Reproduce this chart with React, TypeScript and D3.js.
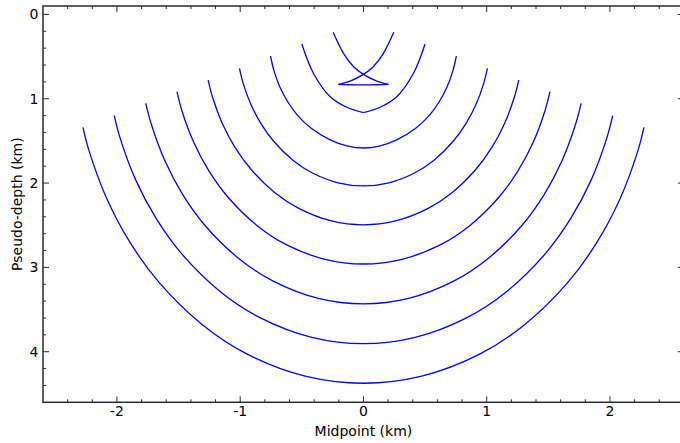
import React from "react";
import * as d3 from "d3";

type Pt = [number, number];

// Wavefront 1 (self-intersecting, with two cusps)
const wave1Down: Pt[] = [[-0.246, 0.212], [-0.162, 0.461], [-0.08, 0.62], [0, 0.711], [0.108, 0.79], [0.203, 0.829]];
const wave1Base: Pt[] = [[-0.203, 0.829], [-0.1, 0.834], [0, 0.836], [0.1, 0.834], [0.203, 0.829]];
const wave1Up: Pt[] = [[-0.203, 0.829], [-0.108, 0.79], [0, 0.711], [0.08, 0.62], [0.162, 0.461], [0.246, 0.212]];
// Wavefront 2 (cusp at the bottom)
const wave2Left: Pt[] = [[-0.5, 0.351], [-0.406, 0.698], [-0.27, 0.976], [-0.135, 1.101], [0, 1.165]];
const wave2Right: Pt[] = [[0, 1.165], [0.135, 1.101], [0.27, 0.976], [0.406, 0.698], [0.5, 0.351]];
// Smooth wavefronts
const wave3: Pt[] = [[-0.754, 0.493], [-0.725, 0.672], [-0.679, 0.857], [-0.617, 1.03], [-0.54, 1.188], [-0.424, 1.35], [-0.27, 1.487], [-0.135, 1.558], [0, 1.584], [0.135, 1.558], [0.27, 1.487], [0.424, 1.35], [0.54, 1.188], [0.617, 1.03], [0.679, 0.857], [0.725, 0.672], [0.754, 0.493]];
const wave4: Pt[] = [[-1.006, 0.639], [-0.974, 0.826], [-0.912, 1.071], [-0.829, 1.3], [-0.725, 1.51], [-0.57, 1.732], [-0.414, 1.881], [-0.207, 1.997], [0, 2.034], [0.207, 1.997], [0.414, 1.881], [0.57, 1.732], [0.725, 1.51], [0.829, 1.3], [0.912, 1.071], [0.974, 0.826], [1.006, 0.639]];
const wave5: Pt[] = [[-1.26, 0.778], [-1.224, 0.983], [-1.146, 1.29], [-1.042, 1.577], [-0.911, 1.839], [-0.716, 2.117], [-0.521, 2.303], [-0.26, 2.449], [0, 2.495], [0.26, 2.449], [0.521, 2.303], [0.716, 2.117], [0.911, 1.839], [1.042, 1.577], [1.146, 1.29], [1.224, 0.983], [1.26, 0.778]];
const wave6: Pt[] = [[-1.513, 0.916], [-1.473, 1.142], [-1.379, 1.511], [-1.254, 1.856], [-1.097, 2.171], [-0.862, 2.505], [-0.627, 2.73], [-0.313, 2.904], [0, 2.96], [0.313, 2.904], [0.627, 2.73], [0.862, 2.505], [1.097, 2.171], [1.254, 1.856], [1.379, 1.511], [1.473, 1.142], [1.513, 0.916]];
const wave7: Pt[] = [[-1.766, 1.054], [-1.721, 1.303], [-1.611, 1.736], [-1.465, 2.14], [-1.282, 2.509], [-1.007, 2.9], [-0.732, 3.163], [-0.366, 3.368], [0, 3.433], [0.366, 3.368], [0.732, 3.163], [1.007, 2.9], [1.282, 2.509], [1.465, 2.14], [1.611, 1.736], [1.721, 1.303], [1.766, 1.054]];
const wave8: Pt[] = [[-2.022, 1.201], [-1.975, 1.464], [-1.849, 1.959], [-1.681, 2.422], [-1.471, 2.845], [-1.156, 3.294], [-0.84, 3.595], [-0.42, 3.829], [0, 3.904], [0.42, 3.829], [0.84, 3.595], [1.156, 3.294], [1.471, 2.845], [1.681, 2.422], [1.849, 1.959], [1.975, 1.464], [2.022, 1.201]];
const wave9: Pt[] = [[-2.276, 1.339], [-2.225, 1.624], [-2.083, 2.183], [-1.894, 2.704], [-1.657, 3.181], [-1.302, 3.686], [-0.947, 4.026], [-0.473, 4.29], [0, 4.374], [0.473, 4.29], [0.947, 4.026], [1.302, 3.686], [1.657, 3.181], [1.894, 2.704], [2.083, 2.183], [2.225, 1.624], [2.276, 1.339]];

const segments: Pt[][] = [wave1Down, wave1Base, wave1Up, wave2Left, wave2Right, wave3, wave4, wave5, wave6, wave7, wave8, wave9];

const xTickLabels = ["-2", "-1", "0", "1", "2"];
const yTickLabels = ["0", "1", "2", "3", "4"];
const xDomain: [number, number] = [-2.6, 2.6];
const yDomain: [number, number] = [-0.1, 4.6];

export default function App() {
  const W = 680, H = 443;
  const left = 43, right = 683.9, top = 6, bottom = 402.3;
  const x = d3.scaleLinear().domain(xDomain).range([left, right]);
  const y = d3.scaleLinear().domain(yDomain).range([top, bottom]);
  const line = d3.line<Pt>().x(d => x(d[0])).y(d => y(d[1])).curve(d3.curveCatmullRom.alpha(0.5));

  const xMinor = d3.range(-13, 14).map(i => +(i * 0.2).toFixed(1)).filter(v => v > xDomain[0] && v < xDomain[1]);
  const yMinor = d3.range(0, 24).map(i => +(i * 0.2).toFixed(1)).filter(v => v > yDomain[0] && v < yDomain[1]);
  const isMajor = (v: number) => Math.abs(v - Math.round(v)) < 1e-6;
  const axisColor = "#2b2b2b";
  const font = "'DejaVu Sans', sans-serif";

  return (
    <svg width={W} height={H} style={{ position: "absolute", left: 0, top: 0, background: "#fff" }}>
      <g>
        {segments.map((s, i) => (
          <path key={i} d={line(s) || ""} fill="none" stroke="#0000ff" strokeWidth={1.3} />
        ))}
      </g>
      <rect x={left} y={top} width={right - left} height={bottom - top} fill="none" stroke={axisColor} strokeWidth={1.5} />
      {xMinor.map((v, i) => {
        const L = isMajor(v) ? 6 : 3;
        return (
          <g key={"xt" + i} stroke={axisColor} strokeWidth={1}>
            <line x1={x(v)} x2={x(v)} y1={bottom} y2={bottom - L} />
            <line x1={x(v)} x2={x(v)} y1={top} y2={top + L} />
          </g>
        );
      })}
      {yMinor.map((v, i) => {
        const L = isMajor(v) ? 6 : 3;
        return (
          <g key={"yt" + i} stroke={axisColor} strokeWidth={1}>
            <line x1={left} x2={left + L} y1={y(v)} y2={y(v)} />
            <line x1={right} x2={right - L} y1={y(v)} y2={y(v)} />
          </g>
        );
      })}
      {xTickLabels.map(t => (
        <text key={"xl" + t} x={x(+t)} y={416} textAnchor="middle" fontFamily={font} fontSize={14} fill="#000">{t}</text>
      ))}
      {yTickLabels.map(t => (
        <text key={"yl" + t} x={38.5} y={y(+t)} dy="0.36em" textAnchor="end" fontFamily={font} fontSize={14} fill="#000">{t}</text>
      ))}
      <text x={x(0)} y={436} textAnchor="middle" fontFamily={font} fontSize={14} fill="#000">Midpoint (km)</text>
      <text transform={`translate(21.5, ${(top + bottom) / 2}) rotate(-90)`} textAnchor="middle" fontFamily={font} fontSize={14} fill="#000">Pseudo-depth (km)</text>
    </svg>
  );
}
